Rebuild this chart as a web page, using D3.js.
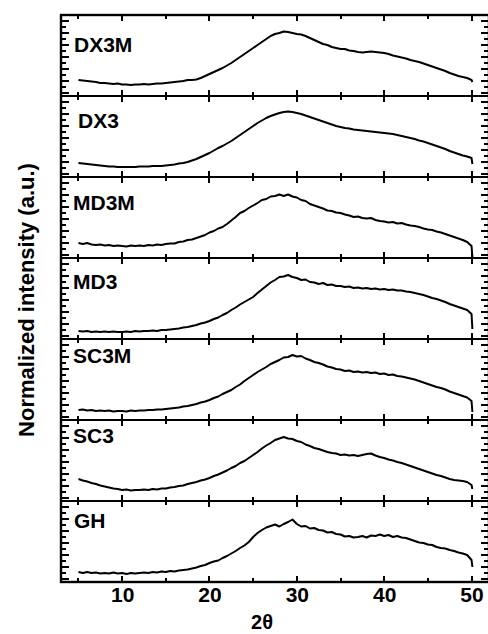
<!DOCTYPE html>
<html>
<head>
<meta charset="utf-8">
<script src="https://cdn.jsdelivr.net/npm/d3@7/dist/d3.min.js"></script>
<style>
  html, body { margin: 0; padding: 0; background: #fff; }
  svg { display: block; }
  text { font-family: "Liberation Sans", Arial, sans-serif; font-weight: bold; fill: #000; }
</style>
</head>
<body>
<svg id="chart" width="488" height="634"></svg>
<script>
// sampling grid of the scans, 2theta from 5 to 50 in 0.5 deg steps
const twoTheta = d3.range(5, 50.001, 0.5)
const tailTheta = 50.1

const samples = ['DX3M', 'DX3', 'MD3M', 'MD3', 'SC3M', 'SC3', 'GH']

// normalized intensity (a.u.), one row per 5 deg
const dx3m = [
  16, 15.5, 15, 14.5, 14, 13, 13, 12.5, 12, 12.5,
  11.5, 11.5, 11, 11.5, 11.5, 12, 11.5, 12, 12.5, 12.5,
  13, 13.5, 14, 14.5, 15, 16, 16, 16.5, 18, 20,
  22, 24, 26, 28, 30.5, 33, 36, 39, 42, 45,
  48, 51, 54, 57, 60, 62, 63, 64.5, 64, 63,
  62, 61.5, 60, 58, 56, 54, 52, 51, 49, 48,
  47, 47, 45.5, 45, 44, 43.5, 44, 44.5, 44, 43.5,
  43, 42, 40.5, 39.5, 38.5, 37.5, 36, 35, 34, 32.5,
  31, 29.5, 28, 26.5, 25, 23, 21.5, 20, 19, 18,
  16]
const dx3 = [
  14, 13.5, 13, 12.5, 12, 11.5, 11, 10.5, 10.5, 10,
  10, 10, 10, 10, 10.5, 10.5, 10.5, 11, 11, 11,
  11.5, 12, 12.5, 13.5, 14, 15, 16.5, 18, 20, 22,
  24, 26.5, 29, 31, 33.5, 36, 39, 42, 45, 48,
  51, 54, 56.5, 59, 61, 62.5, 64, 65, 65.5, 65,
  64, 63, 61.5, 60, 58.5, 57, 55.5, 54, 52.5, 51,
  50, 49, 48.5, 47.5, 47, 46.5, 46, 45.5, 45, 44.5,
  44, 43.5, 43, 42, 41, 40, 39, 38, 36.5, 35.5,
  34, 32.5, 31, 29.5, 28, 26, 24.5, 23, 21.5, 20.5,
  19]
const md3m = [
  15, 14, 15, 13.5, 13, 13.5, 12.5, 13, 12, 12.5,
  12, 11.5, 12.5, 12, 12.5, 12, 13, 12.5, 13.5, 13,
  14, 14.5, 14.5, 16, 16.5, 18, 18.5, 20, 21.5, 23,
  25.5, 27, 29.5, 31, 34, 37.5, 41, 45, 47, 50,
  52.5, 55, 58, 59, 61.5, 62, 63.5, 62, 63.5, 61.5,
  60.5, 58, 57, 54, 52.5, 51, 49.5, 47.5, 47, 45.5,
  45, 43.5, 42.5, 41, 41.5, 40, 39.5, 40, 38, 37,
  36.5, 35.5, 36, 34.5, 35, 33.5, 32.5, 32, 31, 29.5,
  28.5, 28, 26.5, 25.5, 24, 22.5, 21, 19.5, 18, 16,
  12]
const md3 = [
  8, 7.5, 8, 7, 7.5, 7, 7.5, 7, 7.5, 7,
  7, 7.5, 7, 8, 7.5, 8, 8, 8.5, 8, 9,
  9, 9.5, 10, 10.5, 11.5, 12, 13, 14, 15.5, 16.5,
  18, 20, 21.5, 24, 26, 29, 31.5, 34.5, 37, 39.5,
  42, 46, 49.5, 53, 56.5, 59, 62, 62.5, 64, 62,
  61, 59, 59.5, 57, 56.5, 55, 56, 54, 54.5, 53,
  53, 52, 52.5, 51, 51.5, 50.5, 51, 50, 50.5, 49.5,
  50, 49, 49.5, 48.5, 48.5, 47.5, 47, 46, 45, 44,
  42.5, 41, 40, 38.5, 37, 35, 33.5, 32, 30.5, 29,
  25]
const sc3m = [
  10, 10.5, 9.5, 10, 9, 9.5, 9, 9.5, 8.5, 9,
  9, 8.5, 9.5, 9, 9.5, 9.5, 10, 10, 10.5, 10.5,
  11, 11.5, 12, 12.5, 13.5, 14, 15, 16, 17.5, 18.5,
  20, 22, 23.5, 26, 28, 30, 33, 35.5, 39, 42,
  45, 48, 50.5, 53, 56, 58, 60, 62.5, 63, 65,
  63.5, 64, 61.5, 60, 58, 57, 55.5, 53.5, 52.5, 51,
  50.5, 49, 49.5, 48, 48.5, 47.5, 48, 47, 47.5, 46,
  46.5, 45, 45.5, 44, 43.5, 42.5, 41.5, 40.5, 39, 37.5,
  36, 34.5, 33, 32, 30.5, 28.5, 27, 25.5, 24, 22.5,
  19]
const sc3 = [
  22, 20.5, 19.5, 18, 17, 15.5, 14.5, 13.5, 12.5, 12,
  11, 11.5, 10.5, 11, 11, 11.5, 11, 12, 11.5, 12.5,
  12.5, 13.5, 14, 15, 15.5, 17, 18, 19, 20.5, 21.5,
  23, 25, 26.5, 28.5, 30.5, 33, 35, 38, 40, 43,
  46, 49, 52.5, 55.5, 58, 61, 62.5, 64, 62.5, 62,
  60, 59, 56.5, 55, 53, 52, 50.5, 49, 48, 47.5,
  46, 46.5, 45.5, 46, 45, 46, 47, 47.5, 45.5, 44,
  43, 41.5, 40.5, 39, 38, 36.5, 35, 33.5, 32, 30.5,
  29, 27.5, 26, 25, 23.5, 22, 21, 20.5, 20, 19,
  16]
const gh = [
  10, 9, 10, 9, 9.5, 8.5, 9, 8.5, 9.5, 8.5,
  9, 8, 9, 8.5, 9, 9.5, 9, 10, 9.5, 10.5,
  10, 11, 10.5, 11.5, 12, 12.5, 13.5, 14.5, 16, 17,
  19, 20.5, 21.5, 24, 26, 28.5, 31, 34, 36.5, 40,
  45, 49, 52, 54.5, 56, 57.5, 55.5, 58, 60, 62.5,
  58, 55.5, 56, 53.5, 54, 52, 51.5, 49.5, 50, 48,
  47.5, 45.5, 46, 44.5, 45, 46, 44.5, 46.5, 46, 47.5,
  46, 47, 45, 46, 44.5, 44, 42.5, 41, 39.5, 39,
  37.5, 37, 35, 34, 33.5, 32, 31, 29.5, 28.5, 27,
  22]
// last reading where each scan falls off at the end of the range
const tails = [14, 13, 1, 10, 8, 12, 15]

const series = [dx3m, dx3, md3m, md3, sc3m, sc3, gh]

const xMajor = [10, 20, 30, 40, 50]
const xMinor = [5, 15, 25, 35, 45]
const yTickVals = d3.range(3, 81, 6)

// layout
const L = 61, R = 489, T = 15, B = 582
const PH = (B - T) / samples.length
const labelX = [74, 78, 73, 73, 73, 73, 74]
const labelBase = [52, 128, 210, 289, 363, 443, 528]

const svg = d3.select('#chart')
const x = d3.scaleLinear().domain([3, 52]).range([L, R])

const line = d3.line().x(function (d) { return x(d[0]) }).y(function (d) { return d[1] })

// x ticks as {v, len}
const xTicks = xMajor.map(function (v) { return { v: v, len: 6 } }).concat(xMinor.map(function (v) { return { v: v, len: 4 } }))

samples.forEach(function (name, i) {
  const top = T + i * PH, bot = top + PH
  const y = d3.scaleLinear().domain([0, PH]).range([bot, top])
  const g = svg.append('g').attr('class', 'panel')
  const tk = g.append('g').attr('stroke', '#000').attr('stroke-width', 2)

  // inner ticks, left and right, alternating long / short
  tk.selectAll('line.yl').data(yTickVals).join('line').attr('class', 'yl')
    .attr('x1', L).attr('x2', function (d, k) { return L + (k % 2 ? 5 : 8) })
    .attr('y1', function (d) { return Math.round(y(d)) }).attr('y2', function (d) { return Math.round(y(d)) })
  tk.selectAll('line.yr').data(yTickVals).join('line').attr('class', 'yr')
    .attr('x1', R).attr('x2', function (d, k) { return R - (k % 2 ? 5 : 8) })
    .attr('y1', function (d) { return Math.round(y(d)) }).attr('y2', function (d) { return Math.round(y(d)) })

  // top and bottom ticks of each panel
  tk.selectAll('line.xb').data(xTicks).join('line').attr('class', 'xb')
    .attr('x1', function (d) { return Math.round(x(d.v)) }).attr('x2', function (d) { return Math.round(x(d.v)) })
    .attr('y1', bot).attr('y2', function (d) { return bot - d.len })
  tk.selectAll('line.xt').data(xTicks).join('line').attr('class', 'xt')
    .attr('x1', function (d) { return Math.round(x(d.v)) }).attr('x2', function (d) { return Math.round(x(d.v)) })
    .attr('y1', top).attr('y2', function (d) { return top + d.len })

  const pts = twoTheta.map(function (t, k) { return [t, y(series[i][k])] })
  pts.push([tailTheta, y(tails[i])])
  g.append('path').attr('d', line(pts))
    .attr('fill', 'none').attr('stroke', '#000').attr('stroke-width', 2).attr('stroke-linejoin', 'round')

  g.append('text').attr('x', labelX[i]).attr('y', labelBase[i]).attr('font-size', 21).text(name)

  if (i > 0) {
    g.append('line').attr('x1', L).attr('x2', R).attr('y1', top).attr('y2', top)
      .attr('stroke', '#000').attr('stroke-width', 2)
  }
})

// outer frame
svg.append('rect').attr('x', L).attr('y', T).attr('width', R - L).attr('height', B - T)
  .attr('fill', 'none').attr('stroke', '#000').attr('stroke-width', 2.4)

// x tick labels
const xa = svg.append('g').attr('transform', 'translate(0,' + B + ')')
  .call(d3.axisBottom(x).tickValues(xMajor).tickSize(0).tickPadding(5).tickFormat(d3.format('d')))
xa.select('.domain').remove()
xa.selectAll('text').attr('font-size', 21).attr('font-family', null)

svg.append('text').attr('x', 262).attr('y', 629).attr('text-anchor', 'middle').attr('font-size', 20).text('2θ')

svg.append('text').attr('transform', 'translate(34,300) rotate(-90)').attr('text-anchor', 'middle')
  .attr('font-size', 22).text('Normalized intensity (a.u.)')
</script>
</body>
</html>
